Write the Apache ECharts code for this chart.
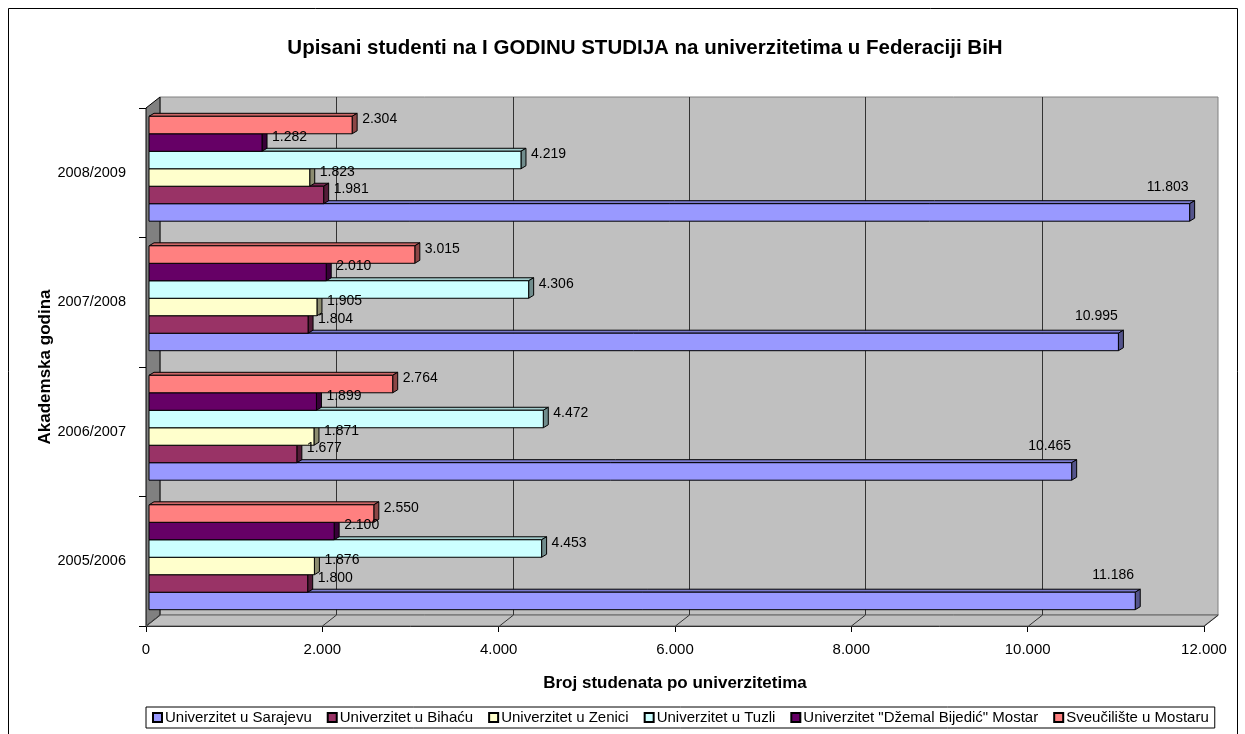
<!DOCTYPE html>
<html>
<head>
<meta charset="utf-8">
<title>Upisani studenti</title>
<script src="https://cdn.jsdelivr.net/npm/echarts@6/dist/echarts.min.js"></script>
<style>
  html, body { margin: 0; padding: 0; background: #fff; }
  #chart { width: 1245px; height: 734px; }
</style>
</head>
<body>
<div id="chart"></div>
<script>
const years = ["2005/2006", "2006/2007", "2007/2008", "2008/2009"];
const xTicks = [0, 2000, 4000, 6000, 8000, 10000, 12000];

const sarajevo = [11186, 10465, 10995, 11803];
const bihac = [1800, 1677, 1804, 1981];
const zenica = [1876, 1871, 1905, 1823];
const tuzla = [4453, 4472, 4306, 4219];
const dzemal = [2100, 1899, 2010, 1282];
const mostar = [2550, 2764, 3015, 2304];

const names = [
  "Univerzitet u Sarajevu",
  "Univerzitet u Bihaću",
  "Univerzitet u Zenici",
  "Univerzitet u Tuzli",
  'Univerzitet "Džemal Bijedić" Mostar',
  "Sveučilište u Mostaru",
];
const colors = ["#9999FF", "#993366", "#FFFFCC", "#CCFFFF", "#660066", "#FF8080"];
const values = [sarajevo, bihac, zenica, tuzla, dzemal, mostar];

const FONT = '"Liberation Sans", Arial, sans-serif';
// 3d look
const DX = 14, DY = -11; // wall depth
const BX = 5, BY = -3; // bar depth
const OX = 3, OY = -4; // bars sit a bit behind the front plane

function fmt(n) {
  return String(n).replace(/\B(?=(\d{3})+(?!\d))/g, ".");
}

function shade(hex, f) {
  const n = parseInt(hex.slice(1), 16);
  const r = Math.round(((n >> 16) & 255) * f);
  const g = Math.round(((n >> 8) & 255) * f);
  const b = Math.round((n & 255) * f);
  return "rgb(" + r + "," + g + "," + b + ")";
}

function renderWalls(params, api) {
  const cs = params.coordSys;
  const L = cs.x, T = cs.y, R = cs.x + cs.width, B = cs.y + cs.height;
  const children = [
    {
      type: "polygon",
      shape: { points: [[L + DX, T + DY], [R + DX, T + DY], [R + DX, B + DY], [L + DX, B + DY]] },
      style: { fill: "#C0C0C0", stroke: "#808080", lineWidth: 1 },
    },
    {
      type: "polygon",
      shape: { points: [[L, T], [L + DX, T + DY], [L + DX, B + DY], [L, B]] },
      style: { fill: "#808080", stroke: "#000", lineWidth: 1 },
    },
    {
      type: "polygon",
      shape: { points: [[L, B], [L + DX, B + DY], [R + DX, B + DY], [R, B]] },
      style: { fill: "#C0C0C0", stroke: "#606060", lineWidth: 1 },
    },
  ];
  xTicks.forEach(function (v) {
    const x = Math.round(api.coord([v, 0])[0]) + 0.5;
    if (v > 0 && v < 12000) {
      children.push({
        type: "line",
        shape: { x1: x + DX, y1: T + DY, x2: x + DX, y2: B + DY },
        style: { stroke: "#333", lineWidth: 1 },
      });
    }
    children.push({
      type: "line",
      shape: { x1: x, y1: B, x2: x + DX, y2: B + DY },
      style: { stroke: "#333", lineWidth: 1 },
    });
  });
  return { type: "group", children: children };
}

function makeBarRenderer(i) {
  return function (params, api) {
    const val = api.value(0);
    const cat = api.value(1);
    const c0 = api.coord([0, cat]);
    const c1 = api.coord([val, cat]);
    const band = api.size([0, 1])[1];
    const h = band * 0.135;
    const top = c0[1] + OY + (2.5 - i) * h - h / 2;
    const x0 = c0[0] + OX;
    const x1 = c1[0] + OX;
    const col = colors[i];
    const children = [
      {
        type: "polygon",
        shape: { points: [[x0, top], [x0 + BX, top + BY], [x1 + BX, top + BY], [x1, top]] },
        style: { fill: shade(col, 0.8), stroke: "#000", lineWidth: 1 },
      },
      {
        type: "polygon",
        shape: { points: [[x1, top], [x1 + BX, top + BY], [x1 + BX, top + h + BY], [x1, top + h]] },
        style: { fill: shade(col, 0.55), stroke: "#000", lineWidth: 1 },
      },
      {
        type: "rect",
        shape: { x: x0, y: top, width: x1 - x0, height: h },
        style: { fill: col, stroke: "#000", lineWidth: 1 },
      },
    ];
    let lx, ly, align;
    if (i === 0) {
      lx = x1 - 22;
      ly = top - 17;
      align = "center";
    } else {
      lx = x1 + BX + 5;
      ly = top + 3;
      align = "left";
    }
    children.push({
      type: "text",
      x: lx,
      y: ly,
      z2: 100,
      style: {
        text: fmt(val),
        fill: "#000",
        fontSize: 14,
        fontFamily: FONT,
        align: align,
        verticalAlign: "middle",
      },
    });
    return { type: "group", children: children };
  };
}

const series = [
  {
    name: "walls",
    type: "custom",
    z: 1,
    clip: false,
    silent: true,
    renderItem: renderWalls,
    data: [[0, 0]],
  },
];
values.forEach(function (arr, i) {
  series.push({
    name: names[i],
    type: "custom",
    z: 2,
    clip: false,
    itemStyle: { color: colors[i], borderColor: "#000", borderWidth: 1 },
    renderItem: makeBarRenderer(i),
    data: arr.map(function (v, k) {
      return [v, k];
    }),
  });
});

const chart = echarts.init(document.getElementById("chart"));
chart.setOption({
  animation: false,
  backgroundColor: "#fff",
  textStyle: { fontFamily: FONT, color: "#000" },
  title: {
    text: "Upisani studenti na I GODINU STUDIJA na univerzitetima u Federaciji BiH",
    left: 640,
    textAlign: "center",
    top: 33,
    textStyle: { fontSize: 20.5, fontWeight: "bold", fontFamily: FONT, color: "#000" },
  },
  graphic: [
    {
      type: "rect",
      shape: { x: 8.5, y: 8.5, width: 1229, height: 760 },
      style: { fill: "none", stroke: "#000", lineWidth: 1 },
      silent: true,
    },
  ],
  legend: {
    data: names,
    left: 146,
    bottom: 6,
    icon: "rect",
    itemWidth: 9,
    itemHeight: 9,
    itemGap: 15,
    padding: [3, 6],
    borderColor: "#000",
    borderWidth: 1,
    backgroundColor: "#fff",
    textStyle: { fontSize: 15, fontFamily: FONT, color: "#000", padding: [0, 0, 0, -2] },
  },
  grid: {
    left: 146,
    top: 108,
    width: 1058,
    height: 518,
  },
  xAxis: {
    type: "value",
    min: 0,
    max: 12000,
    interval: 2000,
    name: "Broj studenata po univerzitetima",
    nameLocation: "middle",
    nameGap: 49,
    nameTextStyle: { fontSize: 17, fontWeight: "bold", fontFamily: FONT, color: "#000" },
    axisLine: { show: true, lineStyle: { color: "#000" } },
    axisTick: { show: true, length: 6, lineStyle: { color: "#000" } },
    axisLabel: { fontSize: 15, margin: 16, color: "#000", formatter: fmt },
    splitLine: { show: false },
  },
  yAxis: {
    type: "category",
    data: years,
    name: "Akademska godina",
    nameLocation: "middle",
    nameRotate: 90,
    nameGap: 92,
    nameMoveOverlap: false,
    nameTextStyle: { fontSize: 17, fontWeight: "bold", fontFamily: FONT, color: "#000" },
    axisLine: { show: true, lineStyle: { color: "#000" } },
    axisTick: { show: true, length: 7, lineStyle: { color: "#000" } },
    axisLabel: { fontSize: 14.5, margin: 20, color: "#000" },
  },
  series: series,
});
</script>
</body>
</html>
